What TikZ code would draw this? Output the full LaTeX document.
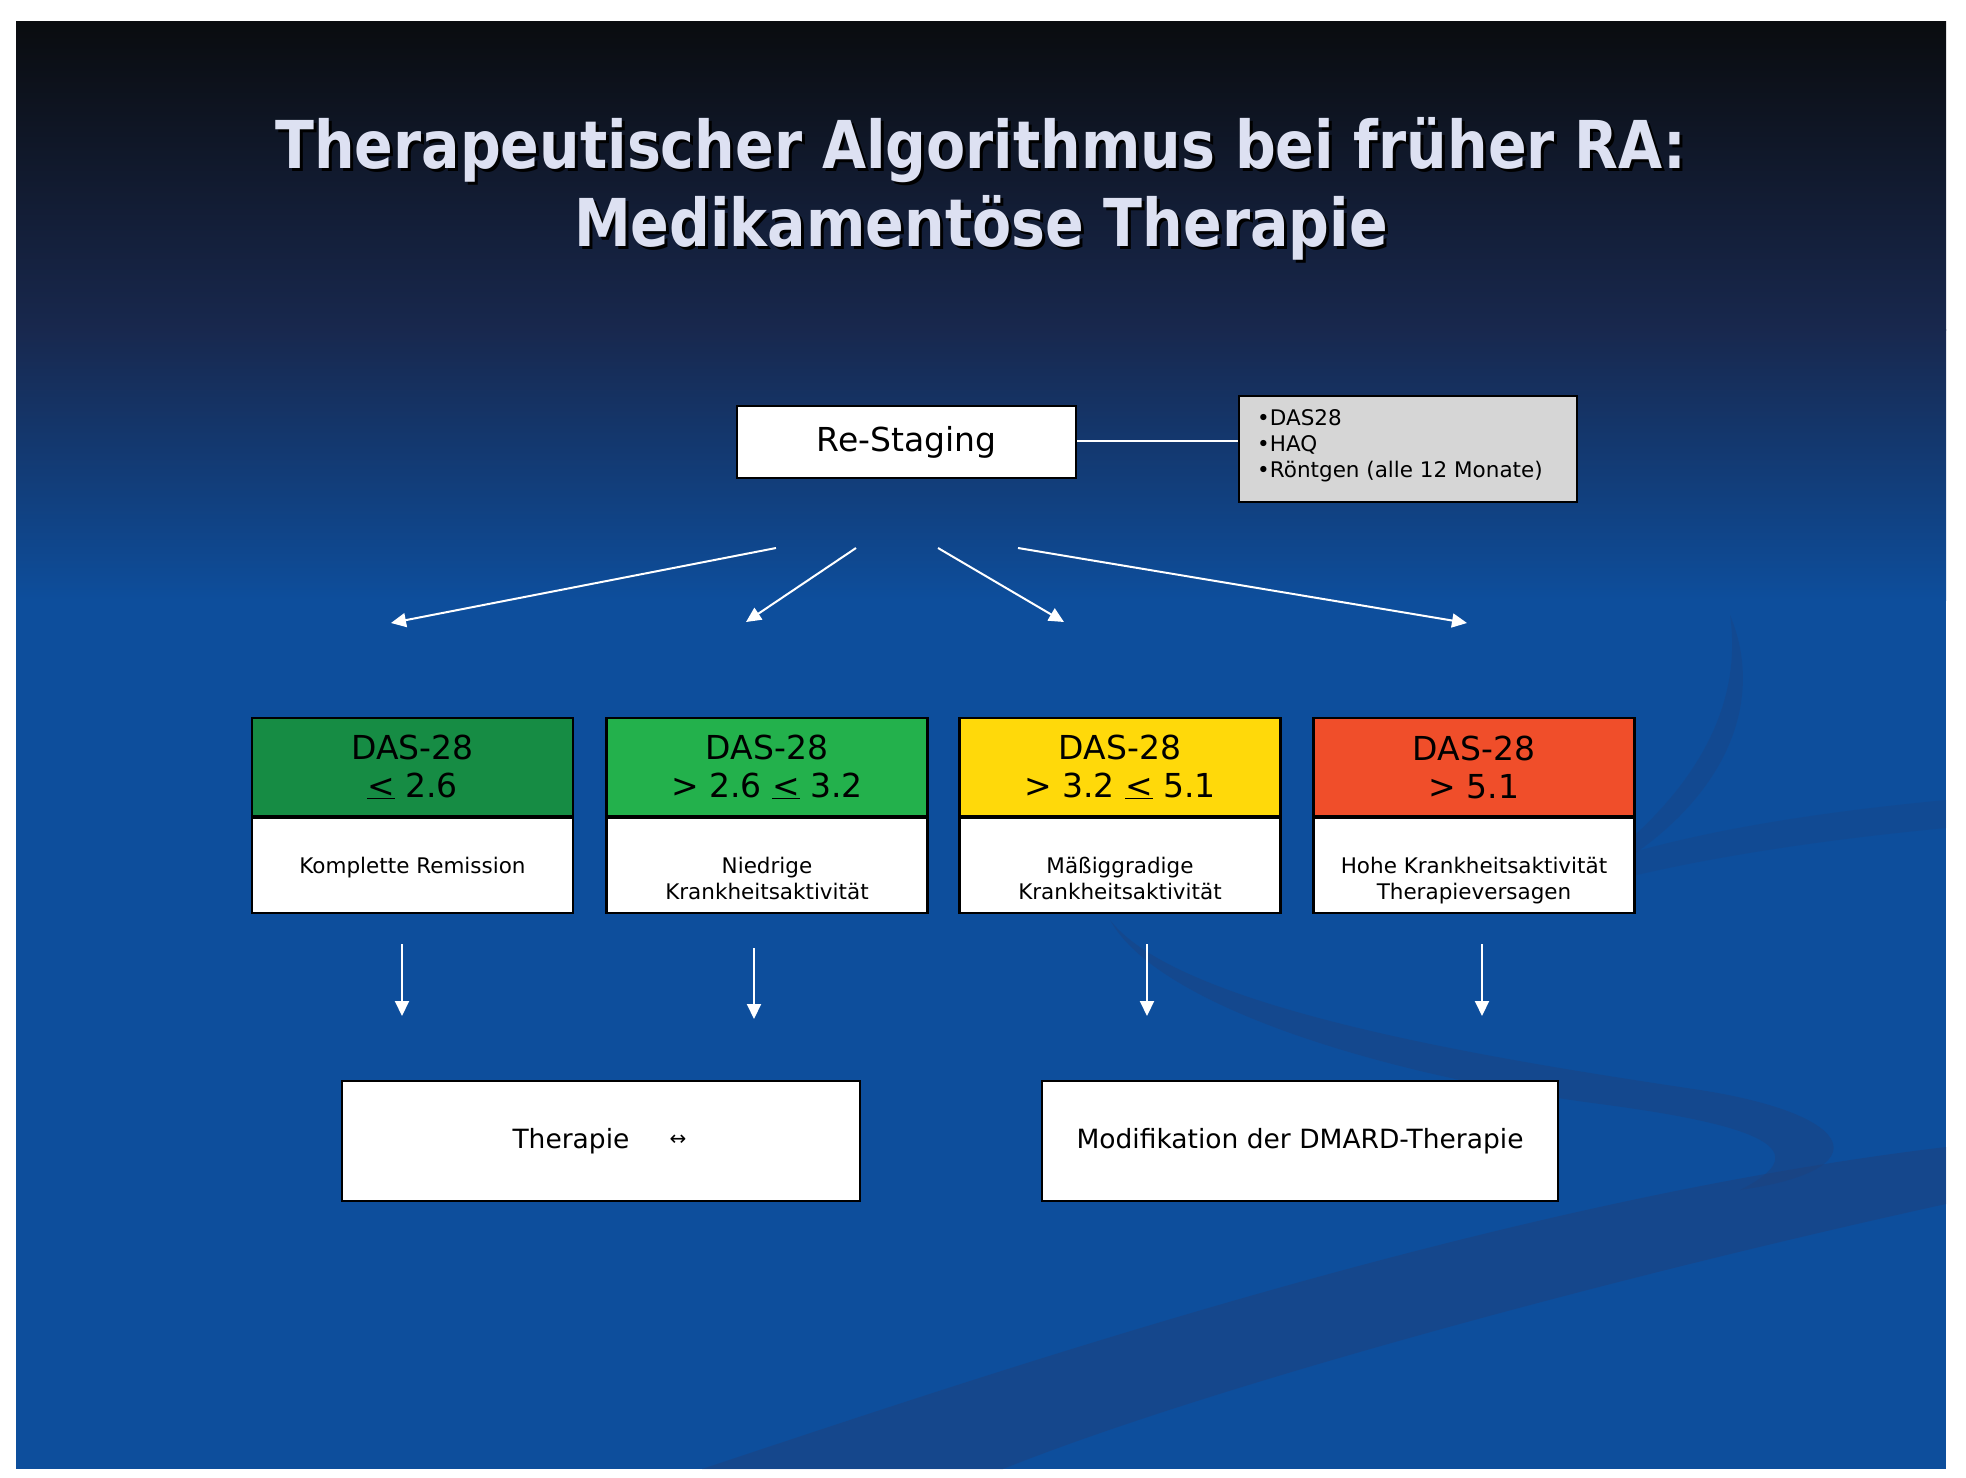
\documentclass[tikz,border=0pt]{standalone}
\usepackage{fontspec}
\setmainfont{DejaVu Sans}
\newfontfamily\titlefont[FakeStretch=0.864]{DejaVu Sans Bold}
\usetikzlibrary{arrows.meta}

\definecolor{slideblue}{RGB}{13,78,156}
\definecolor{topdark}{RGB}{10,12,15}
\definecolor{midnavy}{RGB}{24,40,78}
\definecolor{swoosh}{RGB}{32,64,122}
\definecolor{remgreen}{RGB}{22,140,68}
\definecolor{lowgreen}{RGB}{35,177,76}
\definecolor{modyellow}{RGB}{255,217,10}
\definecolor{highred}{RGB}{240,78,42}
\definecolor{titlecol}{RGB}{221,225,242}
\definecolor{infogray}{RGB}{214,214,214}

\tikzset{
  box/.style={draw=black, line width=2.5pt, fill=white, inner sep=0pt},
  dasbox/.style={box, minimum width=321pt, minimum height=98pt, align=center,
    font=\fontsize{33}{38}\selectfont},
  labelbox/.style={box, minimum width=321pt, minimum height=97pt},
  labeltext/.style={anchor=north, inner sep=0pt, align=center,
    font=\fontsize{21.5}{26}\selectfont},
  wline/.style={draw=white, line width=2pt},
  warrow/.style={wline, -{Triangle[width=14pt,length=15pt]}},
  titletext/.style={align=center, inner sep=0pt,
    font=\titlefont\fontsize{66}{78}\selectfont},
}

\begin{document}
\begin{tikzpicture}[x=1pt,y=-1pt]
% page and slide background
\useasboundingbox (0,0) rectangle (1966,1478);
\fill[white] (0,0) rectangle (1966,1478);
\fill[slideblue] (16,21) rectangle (1946,1469);
\shade[top color=topdark, bottom color=midnavy] (16,21) rectangle (1946,330);
\shade[top color=midnavy, bottom color=slideblue] (16,329) rectangle (1946,600);

% decorative swooshes
\begin{scope}
\clip (16,21) rectangle (1946,1469);
\fill[swoosh, opacity=0.45]
  (702,1469) .. controls (1000,1370) and (1500,1200) .. (1946,1147)
  -- (1946,1204) .. controls (1600,1280) and (1200,1390) .. (1003,1469) -- cycle;
\fill[swoosh, opacity=0.4]
  (1110,920) .. controls (1180,1010) and (1500,1060) .. (1700,1090)
  .. controls (1860,1115) and (1880,1170) .. (1740,1190)
  .. controls (1820,1150) and (1760,1125) .. (1600,1104)
  .. controls (1400,1078) and (1160,1010) .. (1110,920) -- cycle;
\fill[swoosh, opacity=0.3]
  (1730,615) .. controls (1770,710) and (1720,830) .. (1540,905)
  .. controls (1680,820) and (1745,720) .. (1730,615) -- cycle;
\fill[swoosh, opacity=0.25]
  (1600,862) .. controls (1700,830) and (1820,812) .. (1946,800)
  -- (1946,828) .. controls (1820,840) and (1700,858) .. (1600,884) -- cycle;
\end{scope}

% title with drop shadow
\node[titletext, text=black] at (984,192) {Therapeutischer Algorithmus bei früher RA:\\Medikamentöse Therapie};
\node[titletext, text=titlecol] (title) at (981,189) {Therapeutischer Algorithmus bei früher RA:\\Medikamentöse Therapie};

% re-staging and its criteria
\node[box, minimum width=339pt, minimum height=72pt,
  font=\fontsize{33}{38}\selectfont] (restage) at (906.5,442) {Re-Staging};
\node[box, fill=infogray, minimum width=338pt, minimum height=106pt] (info) at (1408,449) {};
\node[anchor=north west, inner sep=0pt, align=left,
  font=\fontsize{21.5}{26}\selectfont] (infotext) at (1257,409)
  {•DAS28\\•HAQ\\•Röntgen (alle 12 Monate)};
\draw[wline] (restage.east |- 0,441) -- (info.west |- 0,441);

% disease activity categories
\node[dasbox, fill=remgreen]  (s1) at (412.5,767) {DAS-28\\\underline{<} 2.6};
\node[dasbox, fill=lowgreen]  (s2) at (767,767)   {DAS-28\\> 2.6 \underline{<} 3.2};
\node[dasbox, fill=modyellow] (s3) at (1120,767)  {DAS-28\\> 3.2 \underline{<} 5.1};
\node[dasbox, fill=highred]   (s4) at (1474,767)  {DAS-28\\> 5.1};

\node[labelbox] (w1) at (412.5,864.5) {};
\node[labelbox] (w2) at (767,864.5)   {};
\node[labelbox] (w3) at (1120,864.5)  {};
\node[labelbox] (w4) at (1474,864.5)  {};
\foreach \i in {1,...,4}
  \draw[line width=4pt] (s\i.south west) -- (s\i.south east);

\node[labeltext] (l1) at (412.5,857) {Komplette Remission};
\node[labeltext] (l2) at (767,857)   {Niedrige\\Krankheitsaktivität};
\node[labeltext] (l3) at (1120,857)  {Mäßiggradige\\Krankheitsaktivität};
\node[labeltext] (l4) at (1474,857)  {Hohe Krankheitsaktivität\\Therapieversagen};

% branch arrows below re-staging
\coordinate (b1s) at (776,548);  \coordinate (b1e) at (391,623);
\coordinate (b2s) at (856,548);  \coordinate (b2e) at (746,622);
\coordinate (b3s) at (938,548);  \coordinate (b3e) at (1064,622);
\coordinate (b4s) at (1018,548); \coordinate (b4e) at (1467,623);
\foreach \i in {1,...,4}
  \draw[warrow] (b\i s) -- (b\i e);

% arrows towards the therapy decisions
\coordinate (d1s) at (402,944);  \coordinate (d1e) at (402,1016);
\coordinate (d2s) at (754,948);  \coordinate (d2e) at (754,1019);
\coordinate (d3s) at (1147,944); \coordinate (d3e) at (1147,1016);
\coordinate (d4s) at (1482,944); \coordinate (d4e) at (1482,1016);
\foreach \i in {1,...,4}
  \draw[warrow] (d\i s) -- (d\i e);

% therapy decisions
\node[box, minimum width=518pt, minimum height=120pt] (keep) at (601,1141) {};
\node[inner sep=0pt, font=\fontsize{26.5}{30}\selectfont] (keeptext) at (571,1141) {Therapie};
\node[inner sep=0pt, font=\fontsize{20}{24}\selectfont] (keeparrow) at (678,1140) {↔};
\node[box, minimum width=516pt, minimum height=120pt,
  font=\fontsize{26.5}{30}\selectfont] (modify) at (1300,1141) {Modifikation der DMARD-Therapie};
\end{tikzpicture}
\end{document}
